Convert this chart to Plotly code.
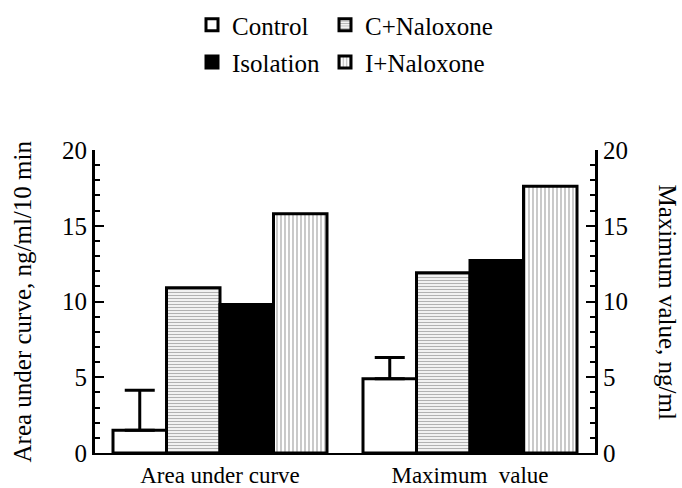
import plotly.graph_objects as go

categories = ["Area under curve", "Maximum  value"]
control = [1.5, 4.9]
control_err = [2.65, 1.4]
c_naloxone = [10.9, 11.9]
isolation = [9.8, 12.7]
i_naloxone = [15.8, 17.6]

FONT = "Liberation Serif"
FS = 25
fig = go.Figure()

line = dict(color="black", width=3)
fig.add_trace(go.Bar(
    x=categories, y=control, name="Control", legend="legend",
    marker=dict(color="white", line=line),
    error_y=dict(type="data", array=control_err, arrayminus=[0, 0], symmetric=False,
                 color="black", thickness=3, width=15),
))
fig.add_trace(go.Bar(
    x=categories, y=c_naloxone, name="C+Naloxone", legend="legend2",
    marker=dict(color="white", line=line,
                pattern=dict(shape="-", fgcolor="#666666", bgcolor="white", size=3, solidity=0.45)),
))
fig.add_trace(go.Bar(
    x=categories, y=isolation, name="Isolation", legend="legend3",
    marker=dict(color="black", line=line),
))
fig.add_trace(go.Bar(
    x=categories, y=i_naloxone, name="I+Naloxone", legend="legend4",
    marker=dict(color="white", line=line,
                pattern=dict(shape="|", fgcolor="#666666", bgcolor="white", size=4, solidity=0.35)),
))
# invisible trace to anchor right axis
fig.add_trace(go.Scatter(x=categories, y=[0, 0], yaxis="y2", mode="none",
                         showlegend=False, hoverinfo="skip"))

axis_common = dict(range=[0, 20], tick0=0, dtick=5, ticks="inside", ticklen=9, tickwidth=2,
                   tickcolor="black", showline=True, linecolor="black", linewidth=3,
                   showgrid=False, zeroline=False, automargin=False,
                   tickfont=dict(family=FONT, size=FS, color="black"),
                   minor=dict(dtick=1, ticks="inside", ticklen=5, tickwidth=2, tickcolor="black"))


def leg(x, y):
    return dict(orientation="h", x=x, y=y, xanchor="left", yanchor="middle",
                font=dict(family=FONT, size=FS, color="black"),
                bgcolor="rgba(0,0,0,0)", itemwidth=30)


fig.update_layout(
    width=682, height=488,
    margin=dict(l=95, r=87, t=150, b=35, autoexpand=False),
    paper_bgcolor="white", plot_bgcolor="white",
    font=dict(family=FONT, size=FS, color="black"),
    barmode="group", bargap=0.144, bargroupgap=0,
    xaxis=dict(showline=True, linecolor="black", linewidth=2, ticks="", showgrid=False,
               automargin=False, range=[-0.5, 1.5],
               tickfont=dict(family=FONT, size=23, color="black")),
    yaxis=dict(**axis_common),
    yaxis2=dict(**axis_common, overlaying="y", side="right"),
    showlegend=True,
    legend=leg(0.194, 1.4125),
    legend2=leg(0.46, 1.4125),
    legend3=leg(0.194, 1.29),
    legend4=leg(0.46, 1.29),
    annotations=[
        dict(text="Area under curve, ng/ml/10 min", xref="paper", yref="paper",
             x=-0.146, y=0.5, xanchor="center", yanchor="middle", textangle=-90,
             showarrow=False, font=dict(family=FONT, size=FS)),
        dict(text="Maximum value, ng/ml", xref="paper", yref="paper",
             x=1.144, y=0.5, xanchor="center", yanchor="middle", textangle=90,
             showarrow=False, font=dict(family=FONT, size=FS)),
    ],
)

fig.write_html("out.html")
